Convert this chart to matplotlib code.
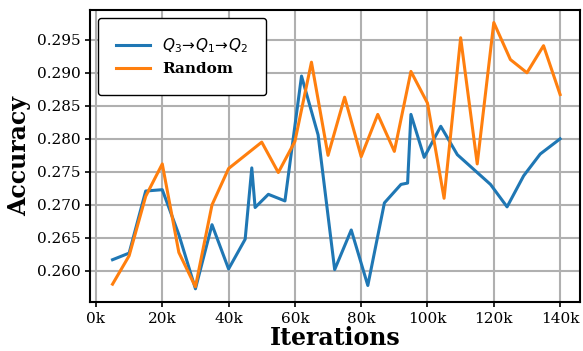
import matplotlib
matplotlib.use('Agg')
import matplotlib.pyplot as plt
from matplotlib.ticker import FuncFormatter

plt.rcParams['font.family'] = 'DejaVu Serif'
plt.rcParams['mathtext.fontset'] = 'dejavusans'

# Q3->Q1->Q2 curriculum
iters_q = [5, 10, 15, 20, 25, 30, 35, 40, 45, 47, 48, 52, 57, 62, 67, 72, 77, 82,
           87, 92, 94, 95, 99, 104, 109, 119, 124, 129, 134, 140]
acc_q = [0.2617, 0.2627, 0.2721, 0.2723, 0.2655, 0.2573, 0.2670, 0.2603, 0.2648,
         0.2756, 0.2696, 0.2716, 0.2706, 0.2895, 0.2806, 0.2602, 0.2662, 0.2578,
         0.2703, 0.2731, 0.2733, 0.2837, 0.2772, 0.2819, 0.2776, 0.2731, 0.2697,
         0.2744, 0.2777, 0.2800]

# random order
iters_r = [5, 10, 15, 20, 25, 30, 35, 40, 45, 50, 55, 60, 65, 70, 75, 80, 85, 90,
           95, 100, 105, 110, 115, 120, 125, 130, 135, 140]
acc_r = [0.2580, 0.2623, 0.2713, 0.2762, 0.2628, 0.2576, 0.2700, 0.2755, 0.2775,
         0.2795, 0.2749, 0.2796, 0.2916, 0.2775, 0.2863, 0.2773, 0.2837, 0.2781,
         0.2902, 0.2854, 0.2710, 0.2953, 0.2762, 0.2976, 0.2920, 0.2900, 0.2941,
         0.2867]

fig = plt.figure(figsize=(5.83, 3.51), dpi=100)
ax = fig.add_axes([90 / 583, 1 - 302 / 351, 490 / 583, 292 / 351])

ax.plot([i * 1000 for i in iters_q], acc_q, color='#1f77b4', lw=2.2,
        label=r'$Q_3\!\rightarrow\! Q_1\!\rightarrow\! Q_2$')
ax.plot([i * 1000 for i in iters_r], acc_r, color='#ff7f0e', lw=2.2, label='Random')

ax.set_xlim(-1800, 146000)
ax.set_ylim(0.2553, 0.2995)
ax.set_xticks(range(0, 140001, 20000))
ax.set_yticks([0.260, 0.265, 0.270, 0.275, 0.280, 0.285, 0.290, 0.295])
ax.xaxis.set_major_formatter(FuncFormatter(lambda v, p: f'{int(v / 1000)}k'))
ax.yaxis.set_major_formatter(FuncFormatter(lambda v, p: f'{v:.3f}'))
ax.tick_params(labelsize=11, width=1.2)
ax.grid(True, color='#b0b0b0', lw=1.5)
ax.set_axisbelow(True)
for s in ax.spines.values():
    s.set_linewidth(1.5)

ax.set_xlabel('Iterations', fontsize=17, fontweight='bold', labelpad=0)
ax.set_ylabel('Accuracy', fontsize=17, fontweight='bold', labelpad=4)

leg = ax.legend(loc='upper left', prop={'family': 'DejaVu Serif', 'weight': 'bold', 'size': 11},
                frameon=True, edgecolor='black', fancybox=True, framealpha=1,
                borderpad=1.2, handlelength=2.2, labelspacing=0.5)
leg.get_texts()[0].set_fontweight('normal')
leg.get_frame().set_linewidth(1.0)

fig.savefig('out.png', dpi=100)
